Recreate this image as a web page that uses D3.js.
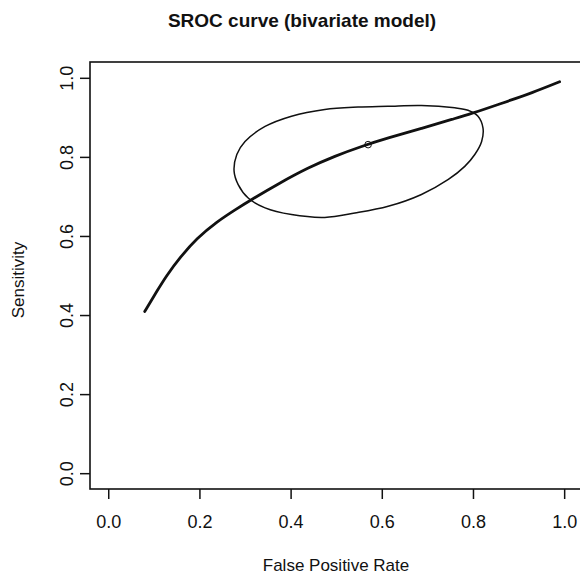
<!DOCTYPE html>
<html>
<head>
<meta charset="utf-8">
<script src="https://cdn.jsdelivr.net/npm/d3@7"></script>
<style>
  body { margin: 0; background: #fff; }
  text { font-family: "Liberation Sans", Arial, sans-serif; fill: #111; }
</style>
</head>
<body>
<svg id="chart" width="580" height="574"></svg>
<script>
// SROC curve (false positive rate, sensitivity)
var srocFpr  = [0.080, 0.106, 0.128, 0.157, 0.194, 0.238, 0.282, 0.314, 0.373, 0.439, 0.497, 0.556, 0.614, 0.687, 0.760, 0.793, 0.859, 0.932, 0.990];
var srocSens = [0.409, 0.459, 0.500, 0.545, 0.594, 0.636, 0.669, 0.692, 0.732, 0.773, 0.802, 0.827, 0.848, 0.872, 0.897, 0.908, 0.934, 0.963, 0.990];

// confidence region
var regionFpr  = [0.276, 0.282, 0.300, 0.344, 0.402, 0.475, 0.548, 0.613, 0.687, 0.760, 0.789, 0.811, 0.822, 0.819, 0.804, 0.782, 0.746, 0.687, 0.614, 0.541, 0.475, 0.402, 0.344, 0.307, 0.285];
var regionSens = [0.764, 0.806, 0.839, 0.877, 0.903, 0.920, 0.926, 0.928, 0.930, 0.924, 0.918, 0.903, 0.873, 0.839, 0.806, 0.776, 0.743, 0.705, 0.675, 0.658, 0.647, 0.654, 0.671, 0.696, 0.730];

// summary point
var meanFpr = 0.570, meanSens = 0.831;

var ticks = [0, 0.2, 0.4, 0.6, 0.8, 1.0];

var svg = d3.select("#chart");
var mLeft = 90, mTop = 62, w = 492.4, h = 427;

var x = d3.scaleLinear().domain([-0.04, 1.04]).range([mLeft, mLeft + w]);
var y = d3.scaleLinear().domain([-0.04, 1.04]).range([mTop + h, mTop]);

// x axis
var xa = svg.append("g")
    .attr("transform", "translate(0," + (mTop + h) + ")")
    .call(d3.axisBottom(x).tickValues(ticks).tickFormat(d3.format(".1f")).tickSize(10).tickSizeOuter(0).tickPadding(16));
xa.select(".domain").remove();
xa.selectAll("line").attr("stroke", "#111").attr("stroke-width", 1.5);
xa.selectAll("text").style("font-size", "18px").attr("fill", "#111");

// y axis, labels turned like R
var ya = svg.append("g")
    .attr("transform", "translate(" + mLeft + ",0)")
    .call(d3.axisLeft(y).tickValues(ticks).tickFormat(d3.format(".1f")).tickSize(10).tickSizeOuter(0));
ya.select(".domain").remove();
ya.selectAll("line").attr("stroke", "#111").attr("stroke-width", 1.5);
ya.selectAll("text")
    .attr("x", 0).attr("y", 0).attr("dy", "0")
    .attr("text-anchor", "middle")
    .attr("transform", "translate(-17,0) rotate(-90)")
    .style("font-size", "18px").attr("fill", "#111");

// box
svg.append("rect")
    .attr("x", mLeft).attr("y", mTop).attr("width", w).attr("height", h)
    .attr("fill", "none").attr("stroke", "#111").attr("stroke-width", 1.6);

svg.append("clipPath").attr("id", "plotclip")
    .append("rect").attr("x", mLeft).attr("y", mTop).attr("width", w).attr("height", h);

var g = svg.append("g").attr("clip-path", "url(#plotclip)");

// confidence region
var region = regionFpr.map(function(d, i){ return [d, regionSens[i]]; });
g.append("path")
    .datum(region)
    .attr("fill", "none")
    .attr("stroke", "#111")
    .attr("stroke-width", 1.5)
    .attr("d", d3.line().x(function(d){ return x(d[0]); }).y(function(d){ return y(d[1]); }).curve(d3.curveCatmullRomClosed));

// sroc curve
var sroc = srocFpr.map(function(d, i){ return [d, srocSens[i]]; });
g.append("path")
    .datum(sroc)
    .attr("fill", "none")
    .attr("stroke", "#111")
    .attr("stroke-width", 2.8)
    .attr("stroke-linecap", "round")
    .attr("d", d3.line().x(function(d){ return x(d[0]); }).y(function(d){ return y(d[1]); }).curve(d3.curveBasis));

// summary point
g.append("circle")
    .attr("cx", x(meanFpr)).attr("cy", y(meanSens)).attr("r", 3.3)
    .attr("fill", "none").attr("stroke", "#111").attr("stroke-width", 1);

// titles
svg.append("text")
    .attr("x", 302).attr("y", 27)
    .attr("text-anchor", "middle")
    .style("font-size", "19px").style("font-weight", "bold")
    .text("SROC curve (bivariate model)");

svg.append("text")
    .attr("x", 336).attr("y", 571)
    .attr("text-anchor", "middle")
    .style("font-size", "17px")
    .text("False Positive Rate");

svg.append("text")
    .attr("transform", "translate(24,280) rotate(-90)")
    .attr("text-anchor", "middle")
    .style("font-size", "17px")
    .text("Sensitivity");
</script>
</body>
</html>
